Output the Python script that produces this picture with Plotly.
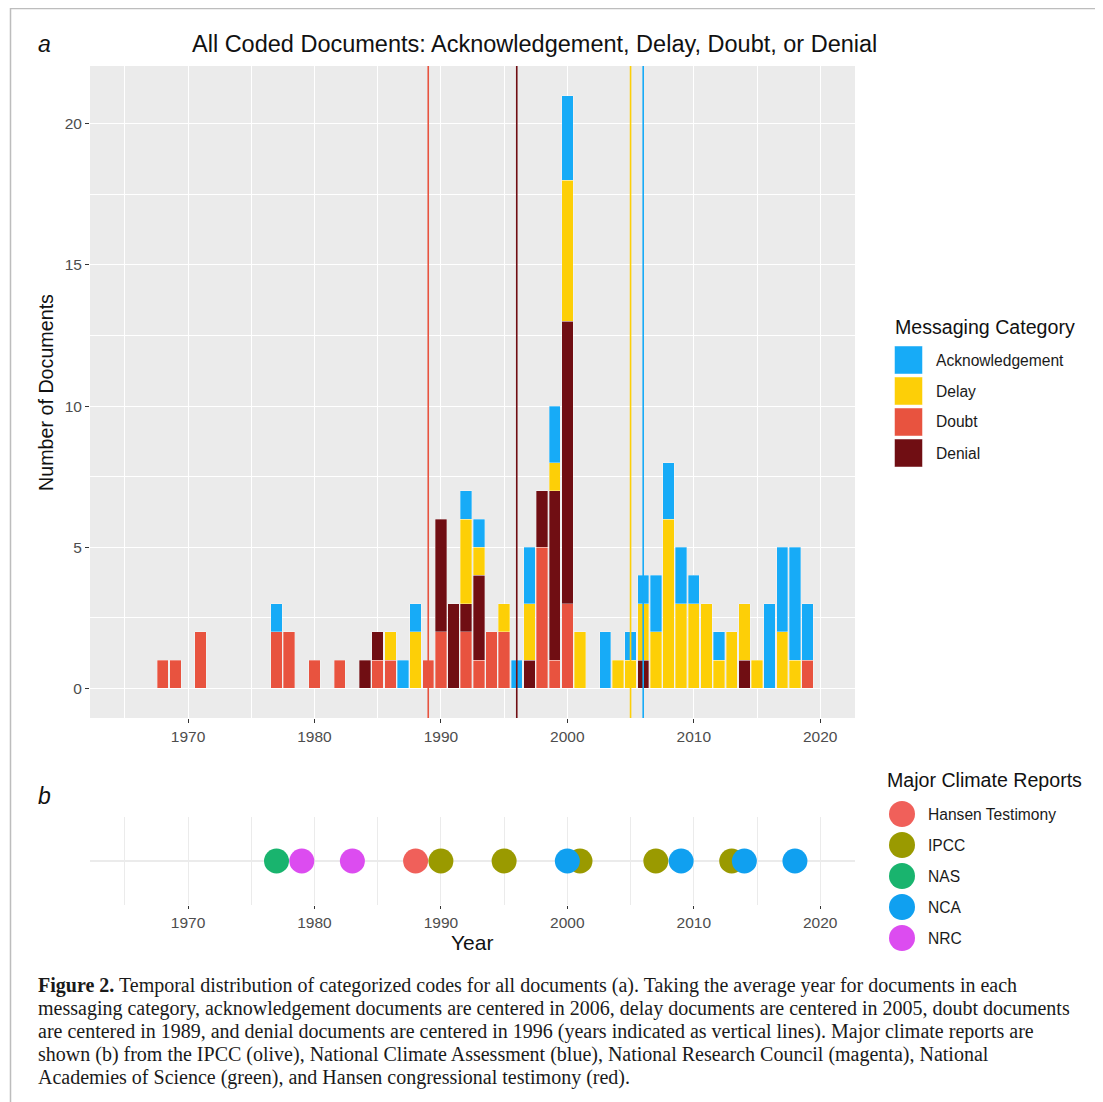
import plotly.graph_objects as go

W, H = 1103, 1102
OFF = 8                     # page body margin of the browser
FW, FH = W - OFF, H - OFF   # figure size

# ---------------- data ----------------
categories = ["Acknowledgement", "Delay", "Doubt", "Denial"]
category_colors = ["#17ABF7", "#FDCF07", "#E8533F", "#700E13"]
category_centers = [2006, 2005, 1989, 1996]   # mean year per category (vertical lines)

doubt_years = [1968, 1969, 1971, 1977, 1978, 1980, 1982, 1985, 1986, 1989, 1990,
               1992, 1993, 1994, 1995, 1998, 1999, 2000, 2019]
doubt_counts = [1, 1, 2, 2, 2, 1, 1, 1, 1, 1, 2, 2, 1, 2, 2, 5, 1, 3, 1]

denial_years = [1984, 1985, 1990, 1991, 1992, 1993, 1997, 1998, 1999, 2000, 2006, 2014]
denial_counts = [1, 1, 4, 3, 1, 3, 1, 2, 6, 10, 1, 1]

delay_years = [1986, 1988, 1992, 1993, 1995, 1997, 1999, 2000, 2001, 2004, 2005, 2006,
               2007, 2008, 2009, 2010, 2011, 2012, 2013, 2014, 2015, 2017, 2018]
delay_counts = [1, 2, 3, 1, 1, 2, 1, 5, 2, 1, 1, 2, 2, 6, 3, 3, 3, 1, 2, 2, 1, 2, 1]

ack_years = [1977, 1987, 1988, 1992, 1993, 1996, 1997, 1999, 2000, 2003, 2005, 2006,
             2007, 2008, 2009, 2010, 2012, 2016, 2017, 2018, 2019]
ack_counts = [1, 1, 1, 1, 1, 1, 2, 2, 3, 2, 1, 1, 2, 2, 2, 1, 1, 3, 3, 4, 2]

# bottom-to-top stacking order
stack_series = [
    ("Doubt", doubt_years, doubt_counts),
    ("Denial", denial_years, denial_counts),
    ("Delay", delay_years, delay_counts),
    ("Acknowledgement", ack_years, ack_counts),
]

report_names = ["Hansen Testimony", "IPCC", "NAS", "NCA", "NRC"]
report_colors = ["#F0605A", "#9A9A00", "#19B46E", "#10A0F0", "#DC4CF0"]
hansen_years = [1988]
ipcc_years = [1990, 1995, 2001, 2007, 2013]
nas_years = [1977]
nca_years = [2000, 2009, 2014, 2018]
nrc_years = [1979, 1983]
report_years = [hansen_years, ipcc_years, nas_years, nca_years, nrc_years]

x_ticks = [1970, 1980, 1990, 2000, 2010, 2020]
y_ticks = [0, 5, 10, 15, 20]

caption_lines = [
    "<b>Figure 2.</b> Temporal distribution of categorized codes for all documents (a). Taking the average year for documents in each",
    "messaging category, acknowledgement documents are centered in 2006, delay documents are centered in 2005, doubt documents",
    "are centered in 1989, and denial documents are centered in 1996 (years indicated as vertical lines). Major climate reports are",
    "shown (b) from the IPCC (olive), National Climate Assessment (blue), National Research Council (magenta), National",
    "Academies of Science (green), and Hansen congressional testimony (red).",
]

# ---------------- helpers (page pixel -> paper) ----------------
def px(x):
    return (x - OFF) / FW


def py(y):
    return 1 - (y - OFF) / FH


SANS = "Liberation Sans, Arial, sans-serif"
SERIF = "Liberation Serif, Times New Roman, serif"
color_of = dict(zip(categories, category_colors))

fig = go.Figure()

# ---------------- panel a: stacked bars ----------------
for name, yrs, cnts in stack_series:
    fig.add_trace(go.Bar(
        x=yrs, y=cnts, name=name, width=0.9,
        marker=dict(color=color_of[name], line=dict(color="rgba(255,255,255,0.55)", width=0.6)),
        xaxis="x", yaxis="y", showlegend=False,
    ))

for name, yr in zip(categories, category_centers):
    fig.add_shape(type="line", xref="x", yref="y domain", x0=yr, x1=yr, y0=0, y1=1,
                  line=dict(color=color_of[name], width=1.6), layer="above")

# gray panel background
fig.add_shape(type="rect", xref="x domain", yref="y domain", x0=0, x1=1, y0=0, y1=1,
              fillcolor="#EBEBEB", line=dict(width=0), layer="below")

# ---------------- panel b: reports ----------------
for name, yrs, col in zip(report_names, report_years, report_colors):
    fig.add_trace(go.Scatter(
        x=yrs, y=[1] * len(yrs), mode="markers", name=name,
        marker=dict(color=col, size=25, line=dict(width=0)),
        xaxis="x2", yaxis="y2", showlegend=False,
    ))

# ---------------- legends (drawn on a page-pixel overlay axis) ----------------
leg_a_y = [360 + 31 * i for i in range(len(categories))]
fig.add_trace(go.Scatter(
    x=[908.5] * len(categories), y=leg_a_y, mode="markers",
    marker=dict(symbol="square", size=28, color=category_colors,
                line=dict(color="rgba(255,255,255,0.6)", width=0.8)),
    xaxis="x3", yaxis="y3", showlegend=False, hoverinfo="skip",
))
leg_b_y = [814 + 31 * i for i in range(len(report_names))]
fig.add_trace(go.Scatter(
    x=[902] * len(report_names), y=leg_b_y, mode="markers",
    marker=dict(symbol="circle", size=26, color=report_colors, line=dict(width=0)),
    xaxis="x3", yaxis="y3", showlegend=False, hoverinfo="skip",
))

annotations = []
for name, yy in zip(categories, leg_a_y):
    annotations.append(dict(x=px(934), y=py(yy), text=name, xanchor="left", yanchor="middle",
                            font=dict(family=SANS, size=15.6, color="#1A1A1A")))
for name, yy in zip(report_names, leg_b_y):
    annotations.append(dict(x=px(926), y=py(yy), text=name, xanchor="left", yanchor="middle",
                            font=dict(family=SANS, size=15.6, color="#1A1A1A")))
annotations += [
    dict(x=px(893), y=py(327), text="Messaging Category", xanchor="left", yanchor="middle",
         font=dict(family=SANS, size=19.6, color="#111")),
    dict(x=px(885), y=py(780), text="Major Climate Reports", xanchor="left", yanchor="middle",
         font=dict(family=SANS, size=19.6, color="#111")),
    dict(x=px(534), y=py(44), text="All Coded Documents: Acknowledgement, Delay, Doubt, or Denial",
         xanchor="center", yanchor="middle", font=dict(family=SANS, size=23.5, color="#111")),
    dict(x=px(44), y=py(44), text="<i>a</i>", xanchor="center", yanchor="middle",
         font=dict(family=SANS, size=23, color="#111")),
    dict(x=px(44), y=py(796), text="<i>b</i>", xanchor="center", yanchor="middle",
         font=dict(family=SANS, size=23, color="#111")),
    dict(x=px(46), y=py(393), text="Number of Documents", textangle=-90, xanchor="center",
         yanchor="middle", font=dict(family=SANS, size=19.7, color="#111")),
    dict(x=px(472), y=py(942), text="Year", xanchor="center", yanchor="middle",
         font=dict(family=SANS, size=21, color="#111")),
]
for i, line in enumerate(caption_lines):
    annotations.append(dict(x=px(36), y=py(985 + 23 * i), text=line, xanchor="left", yanchor="middle",
                            font=dict(family=SERIF, size=20, color="#1A1A1A")))
for a in annotations:
    a.setdefault("xref", "paper")
    a.setdefault("yref", "paper")
    a.setdefault("showarrow", False)

# page border
fig.add_shape(type="line", xref="paper", yref="paper", x0=px(10), x1=1, y0=py(8.5), y1=py(8.5),
              line=dict(color="#BDBDBD", width=1.5))
fig.add_shape(type="line", xref="paper", yref="paper", x0=px(10.5), x1=px(10.5), y0=py(8), y1=0,
              line=dict(color="#BDBDBD", width=1.5))

tickfont = dict(family=SANS, size=15.5, color="#4D4D4D")
xrange = [1962.25, 2022.75]

fig.update_layout(
    width=FW, height=FH, autosize=False,
    margin=dict(l=0, r=0, t=0, b=0),
    paper_bgcolor="white", plot_bgcolor="rgba(0,0,0,0)",
    barmode="stack", showlegend=False,
    annotations=annotations,
    xaxis=dict(domain=[px(90), px(855)], range=xrange, anchor="y",
               tickvals=x_ticks, ticks="outside", ticklen=4, tickcolor="#333333", tickwidth=1,
               tickfont=tickfont, showgrid=True, gridcolor="white", gridwidth=1.4,
               minor=dict(dtick=5, tick0=1965, showgrid=True, gridcolor="white", gridwidth=0.7),
               zeroline=False, showline=False, fixedrange=True),
    yaxis=dict(domain=[py(718), py(66)], range=[-1.05, 22.05], anchor="x",
               tickvals=y_ticks, ticks="outside", ticklen=4, tickcolor="#333333", tickwidth=1,
               tickfont=tickfont, showgrid=True, gridcolor="white", gridwidth=1.4,
               minor=dict(dtick=2.5, tick0=0, showgrid=True, gridcolor="white", gridwidth=0.7),
               zeroline=False, showline=False, fixedrange=True),
    xaxis2=dict(domain=[px(90), px(855)], range=xrange, anchor="y2",
                tickvals=x_ticks, ticks="outside", ticklen=3, tickcolor="#333333", tickwidth=1,
                tickfont=tickfont, showgrid=True, gridcolor="#EBEBEB", gridwidth=1.4,
                minor=dict(dtick=5, tick0=1965, showgrid=True, gridcolor="#EBEBEB", gridwidth=0.8),
                zeroline=False, showline=False, fixedrange=True),
    yaxis2=dict(domain=[py(905), py(817)], range=[0.4, 1.6], anchor="x2",
                tickvals=[1], showticklabels=False, ticks="",
                showgrid=True, gridcolor="#EBEBEB", gridwidth=1.6,
                zeroline=False, showline=False, fixedrange=True),
    xaxis3=dict(domain=[0, 1], range=[OFF, W], anchor="y3", visible=False, fixedrange=True),
    yaxis3=dict(domain=[0, 1], range=[H, OFF], anchor="x3", visible=False, fixedrange=True),
)

fig.write_html("out.html")
